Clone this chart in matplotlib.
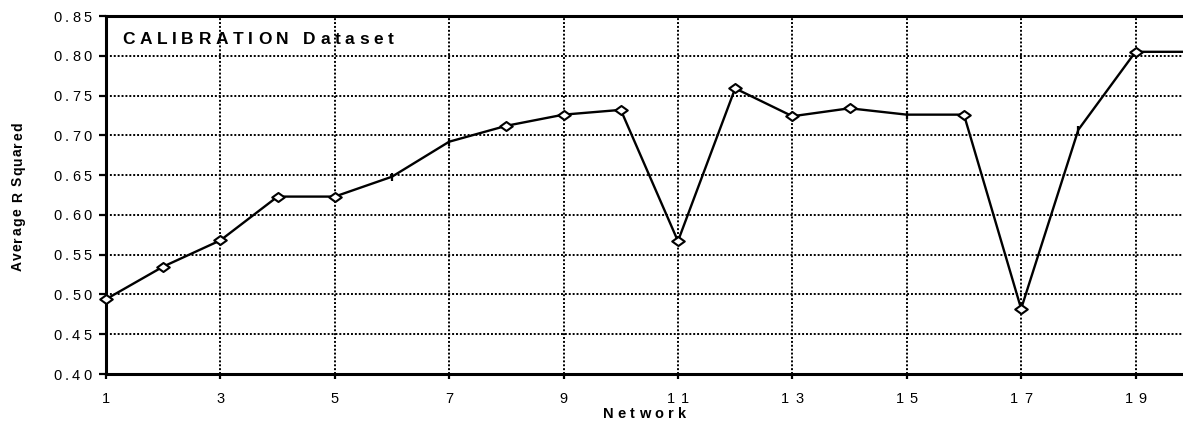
import numpy as np
import matplotlib
matplotlib.use("Agg")
import matplotlib.pyplot as plt
from matplotlib.path import Path
from matplotlib.font_manager import FontProperties, findfont
from matplotlib.ft2font import FT2Font
from matplotlib.transforms import ScaledTranslation, blended_transform_factory

# ---- data -------------------------------------------------------------
networks = list(range(1, 21))
avg_r2 = [0.494, 0.535, 0.568, 0.623, 0.623, 0.648, 0.692, 0.712, 0.726, 0.732,
          0.567, 0.759, 0.724, 0.734, 0.726, 0.726, 0.482, 0.707, 0.805, 0.805]
tick_marker_networks = [6, 7, 15, 18]
x_ticks = list(range(1, 20, 2))
y_ticks = [0.40, 0.45, 0.50, 0.55, 0.60, 0.65, 0.70, 0.75, 0.80, 0.85]
title_text = "CALIBRATION Dataset"
x_label = "Network"
y_label = "Average R Squared"

# ---- figure -----------------------------------------------------------
W, H, DPI = 1183, 425, 100
FONT = "Liberation Sans"
fig = plt.figure(figsize=(W / DPI, H / DPI), dpi=DPI)
ax = fig.add_axes([106 / W, 1 - 374 / H, 1 - 106 / W, (374 - 16) / H])


def px2pt(v):
    return v * 72.0 / DPI


def tracked_text(x, y, s, transform, size, weight="normal", track_px=0.0,
                 ha="left", va="baseline", rotation=0, dx_px=0.0, dy_px=0.0):
    """Draw text with extra letter spacing, one glyph at a time."""
    prop = FontProperties(family=FONT, size=size, weight=weight)
    font = FT2Font(findfont(prop))
    font.set_size(size, 72)
    adv = [font.load_char(ord(c)).linearHoriAdvance / 65536.0 for c in s]
    track = px2pt(track_px)
    total = sum(adv) + track * (len(s) - 1)
    pos = {"left": 0.0, "center": -total / 2.0, "right": -total}[ha]
    th = np.deg2rad(rotation)
    ux, uy = np.cos(th), np.sin(th)
    for c, a in zip(s, adv):
        ox = px2pt(dx_px) + pos * ux
        oy = px2pt(dy_px) + pos * uy
        off = ScaledTranslation(ox / 72.0, oy / 72.0, fig.dpi_scale_trans)
        fig.text(x, y, c, transform=transform + off, fontproperties=prop,
                 ha="left", va=va, rotation=rotation, rotation_mode="anchor",
                 color="black")
        pos += a + track


# ---- axes styling -----------------------------------------------------
ax.set_xlim(1, 19.83)
ax.set_ylim(0.40, 0.85)
ax.set_xticks(x_ticks)
ax.set_yticks(y_ticks)
ax.tick_params(labelleft=False, labelbottom=False)
ax.tick_params(axis="y", direction="out", length=5, width=1.6, color="black")
ax.tick_params(axis="x", direction="out", length=3.5, width=1.6, color="black")
ax.set_axisbelow(True)
ax.grid(True, color="black", linestyle=(0, (1, 1.0)), linewidth=1.4)
for side in ("left", "bottom", "top"):
    ax.spines[side].set_linewidth(2.2)
    ax.spines[side].set_color("black")
ax.spines["right"].set_visible(False)

# ---- series -----------------------------------------------------------
ax.plot(networks, avg_r2, color="black", linewidth=1.7, zorder=3)

diamond = Path([(-1, 0), (0, 0.72), (1, 0), (0, -0.72), (-1, 0)],
               [Path.MOVETO, Path.LINETO, Path.LINETO, Path.LINETO, Path.CLOSEPOLY])
dx = [n for n in networks if n not in tick_marker_networks]
dy = [v for n, v in zip(networks, avg_r2) if n not in tick_marker_networks]
ax.plot(dx, dy, linestyle="none", marker=diamond, markersize=9,
        markerfacecolor="white", markeredgecolor="black", markeredgewidth=1.5,
        zorder=4, clip_on=False)
tx = [n for n in networks if n in tick_marker_networks]
ty = [v for n, v in zip(networks, avg_r2) if n in tick_marker_networks]
ax.plot(tx, ty, linestyle="none", marker="|", markersize=6,
        markeredgecolor="black", markeredgewidth=1.6, zorder=4)

# ---- text -------------------------------------------------------------
ytrans = blended_transform_factory(ax.transAxes, ax.transData)
for v in y_ticks:
    tracked_text(0, v, f"{v:.2f}", ytrans, 10.5, track_px=3.2, ha="right",
                 va="center_baseline", dx_px=-14.5)

xtrans = blended_transform_factory(ax.transData, ax.transAxes)
for t in x_ticks:
    tracked_text(t, 0, str(t), xtrans, 10.5, track_px=6.0, ha="center",
                 va="baseline", dy_px=-29)

tracked_text(0.5, 0, x_label, ax.transAxes, 10.5, weight="bold", track_px=4.2,
             ha="center", va="baseline", dy_px=-44)
tracked_text(0, 1, title_text, ax.transAxes, 12.5, weight="bold", track_px=4.7,
             ha="left", va="baseline", dx_px=16, dy_px=-28)
tracked_text(22 / W, 1 - 197 / H, y_label, fig.transFigure, 10, weight="bold",
             track_px=1.25, ha="center", va="baseline", rotation=90)

fig.savefig("out.png", dpi=DPI)
